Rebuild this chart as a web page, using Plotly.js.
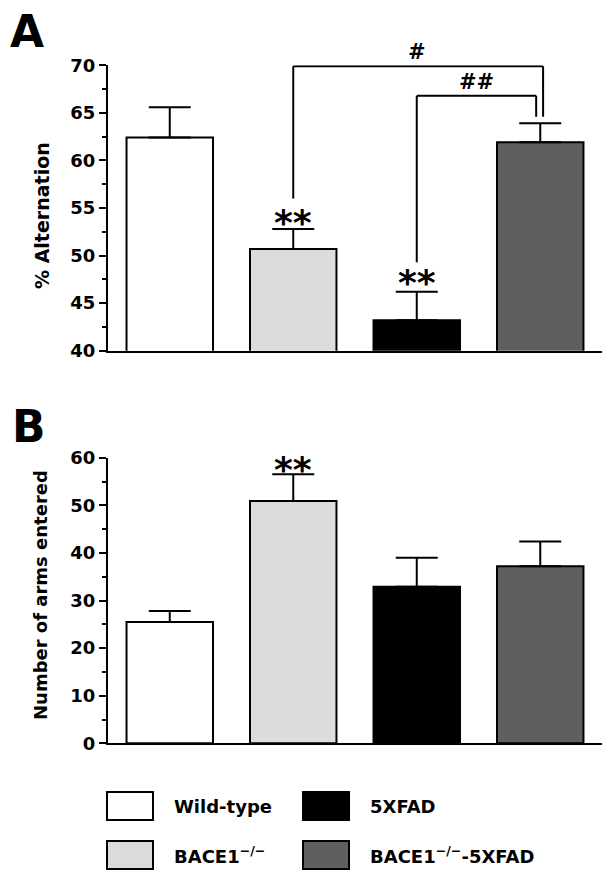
<!DOCTYPE html>
<html>
<head>
<meta charset="utf-8">
<script src="https://cdn.plot.ly/plotly-3.0.1.min.js"></script>
<style>html,body{margin:0;padding:0;background:#fff;}</style>
</head>
<body>
<div id="chart" style="width:612px;height:878px;"></div>
<script>
// ---- data ----
const categories = ['Wild-type', 'BACE1<sup>−/−</sup>', '5XFAD', 'BACE1<sup>−/−</sup>-5XFAD'];
const alternation = [62.4, 50.7, 43.2, 61.9];
const alternationErr = [3.2, 2.1, 3.0, 2.0];
const arms = [25.5, 50.9, 32.9, 37.2];
const armsErr = [2.3, 5.6, 6.1, 5.2];
const barColors = ['#ffffff', '#dcdcdc', '#000000', '#5f5f5f'];
const yTicksA = [40, 45, 50, 55, 60, 65, 70];
const yTicksB = [0, 10, 20, 30, 40, 50, 60];

// ---- helpers ----
const W = 612, H = 878, ML = 108, MR = 10;
const PW = W - ML - MR;
const px2x = p => (p - ML) / PW;
const px2y = p => 1 - p / H;
const FONT = 'DejaVu Sans';
const xs = categories.map((_, i) => i);
const zeros = categories.map(() => 0);

function barTrace(vals, errs, xa, ya) {
  return {
    type: 'bar', x: xs, y: vals, xaxis: xa, yaxis: ya,
    width: 0.7,
    marker: {color: barColors, line: {color: '#000', width: 2}},
    error_y: {type: 'data', array: errs, arrayminus: zeros, symmetric: false,
              color: '#000', thickness: 2, width: 21},
    hovertext: categories, hoverinfo: 'text+y',
    showlegend: false
  };
}

const data = [
  barTrace(alternation, alternationErr, 'x', 'y'),
  barTrace(arms, armsErr, 'x2', 'y2')
];

const tickFont = {family: FONT, size: 18, weight: 'bold', color: '#000'};
const xCommon = {range: [-0.5, 3.5], showline: true, linewidth: 2, linecolor: '#000',
  ticks: '', showticklabels: false, showgrid: false, zeroline: false, fixedrange: true};
const yCommon = {showline: true, linewidth: 2, linecolor: '#000', ticks: 'outside',
  ticklen: 7, tickwidth: 2, tickcolor: '#000', showgrid: false, zeroline: false,
  tickfont: tickFont, fixedrange: true};

const lineStyle = {color: '#000', width: 2};
const seg = (x0, y0, x1, y1, xr, yr) => ({type: 'line', xref: xr, yref: yr, x0, y0, x1, y1, line: lineStyle});

const shapes = [
  // # bracket: BACE1-/- vs BACE1-/-5XFAD
  seg(1, 56.0, 1, 69.9, 'x', 'y'),
  seg(1, 69.9, 3.023, 69.9, 'x', 'y'),
  seg(3.023, 69.9, 3.023, 64.6, 'x', 'y'),
  // ## bracket: 5XFAD vs BACE1-/-5XFAD
  seg(2, 49.3, 2, 66.8, 'x', 'y'),
  seg(2, 66.8, 2.967, 66.8, 'x', 'y'),
  seg(2.967, 66.8, 2.967, 64.6, 'x', 'y')
];

const bold = (size) => ({family: FONT, size: size, weight: 'bold', color: '#000'});
const annotations = [
  {xref: 'paper', yref: 'paper', x: px2x(27), y: px2y(31), text: 'A', showarrow: false,
   font: bold(44), xanchor: 'center', yanchor: 'middle'},
  {xref: 'paper', yref: 'paper', x: px2x(29), y: px2y(426), text: 'B', showarrow: false,
   font: bold(44), xanchor: 'center', yanchor: 'middle'},
  {xref: 'paper', yref: 'paper', x: px2x(42), y: px2y(216), text: '% Alternation', textangle: -90,
   showarrow: false, font: bold(19), xanchor: 'center', yanchor: 'middle'},
  {xref: 'paper', yref: 'paper', x: px2x(40), y: px2y(595), text: 'Number of arms entered', textangle: -90,
   showarrow: false, font: bold(18), xanchor: 'center', yanchor: 'middle'},
  {xref: 'x', yref: 'y', x: 1, y: 53.5, text: '**', showarrow: false,
   font: bold(36), xanchor: 'center', yanchor: 'middle'},
  {xref: 'x', yref: 'y', x: 2, y: 47.2, text: '**', showarrow: false,
   font: bold(36), xanchor: 'center', yanchor: 'middle'},
  {xref: 'x2', yref: 'y2', x: 1, y: 57.6, text: '**', showarrow: false,
   font: bold(36), xanchor: 'center', yanchor: 'middle'},
  {xref: 'x', yref: 'paper', x: 2.0, y: px2y(52), text: '#', showarrow: false,
   font: bold(21), xanchor: 'center', yanchor: 'middle'},
  {xref: 'x', yref: 'y', x: 2.48, y: 68.2, text: '##', showarrow: false,
   font: bold(21), xanchor: 'center', yanchor: 'middle'}
];

// ---- legend (drawn with shapes + text) ----
const legendSlots = [
  {col: 0, row: 0}, {col: 0, row: 1}, {col: 1, row: 0}, {col: 1, row: 1}
];
const colBox = [107, 303], colText = [172, 368], rowTop = [792, 841];
categories.forEach((name, i) => {
  const s = legendSlots[i];
  shapes.push({type: 'rect', xref: 'paper', yref: 'paper',
    x0: px2x(colBox[s.col]), x1: px2x(colBox[s.col] + 46),
    y0: px2y(rowTop[s.row]), y1: px2y(rowTop[s.row] + 28),
    fillcolor: barColors[i], line: {color: '#000', width: 2}});
  annotations.push({xref: 'paper', yref: 'paper', x: px2x(colText[s.col]), y: px2y(rowTop[s.row] + 14),
    text: name, showarrow: false, xanchor: 'left', yanchor: 'middle', font: bold(18)});
});

const layout = {
  width: W, height: H,
  margin: {l: ML, r: MR, t: 0, b: 0},
  paper_bgcolor: '#fff', plot_bgcolor: '#fff',
  showlegend: false,
  xaxis: Object.assign({}, xCommon, {domain: [0, 1], anchor: 'y'}),
  yaxis: Object.assign({}, yCommon, {domain: [px2y(350.7), px2y(65.3)], range: [40, 70], anchor: 'x',
    tickvals: yTicksA, ticktext: yTicksA.map(String),
    minor: {tickvals: [42.5, 47.5, 52.5, 57.5, 62.5, 67.5], ticks: 'outside', ticklen: 4, tickwidth: 2, tickcolor: '#000', showgrid: false}}),
  xaxis2: Object.assign({}, xCommon, {domain: [0, 1], anchor: 'y2'}),
  yaxis2: Object.assign({}, yCommon, {domain: [px2y(743.3), px2y(457.7)], range: [0, 60], anchor: 'x2',
    tickvals: yTicksB, ticktext: yTicksB.map(String),
    minor: {tickvals: [5, 15, 25, 35, 45, 55], ticks: 'outside', ticklen: 4, tickwidth: 2, tickcolor: '#000', showgrid: false}}),
  shapes: shapes,
  annotations: annotations
};

Plotly.newPlot('chart', data, layout, {displayModeBar: false, staticPlot: true});
</script>
</body>
</html>
